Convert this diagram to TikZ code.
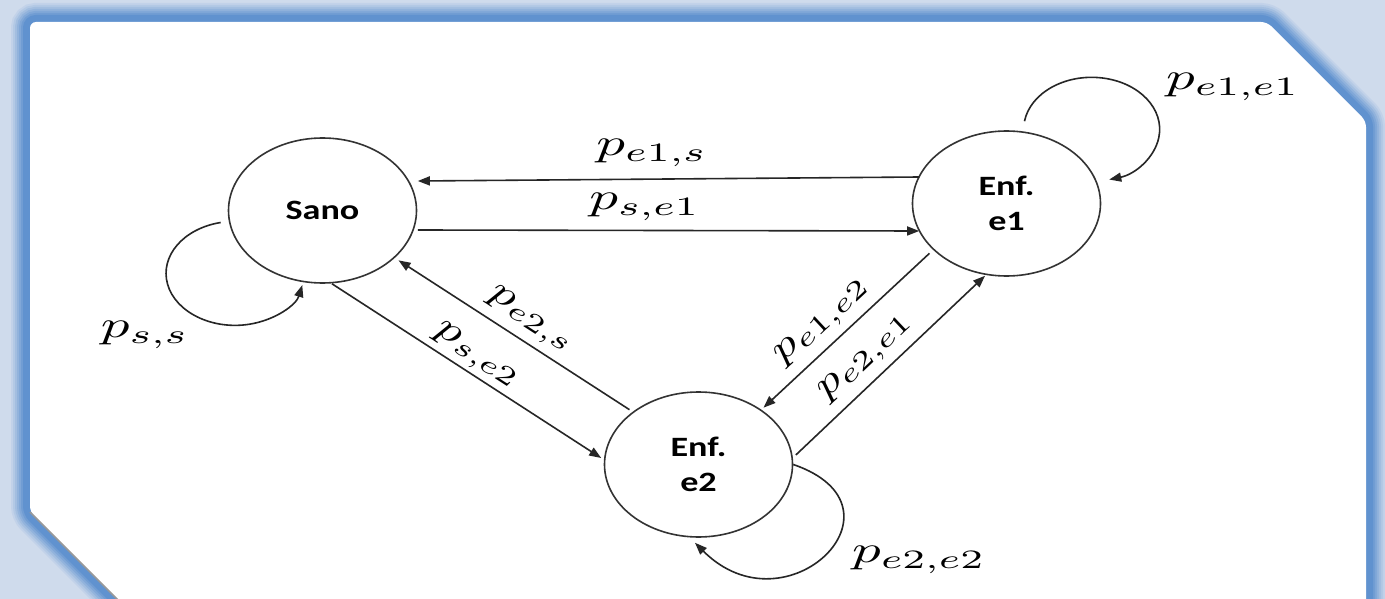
\documentclass[tikz,border=0pt]{standalone}
\usepackage{amsmath}
\usepackage{graphicx}
\usepackage{fontspec}
\usepackage{tikz}
\usetikzlibrary{arrows.meta,positioning,shapes.geometric}
\newfontfamily\statefont{Carlito}
\definecolor{bgblue}{RGB}{207,219,236}
\definecolor{glowc}{RGB}{96,146,207}
\newcommand{\wtxt}[1]{\scalebox{1.29}[1]{#1}}
\newcommand{\prob}[2][5.7]{\scalebox{#1}[3.8]{$p_{#2}$}}

\begin{document}
\begin{tikzpicture}[x=1pt,y=1pt,
    state/.style={ellipse, draw=black!80, line width=1.6pt,
      minimum width=188pt, minimum height=145pt, inner sep=0pt,
      align=center, font=\statefont\bfseries\fontsize{28}{35}\selectfont},
    arr/.style={-{Triangle[length=12pt,width=9pt]}, line width=1.6pt, draw=black!85},
    lab/.style={inner sep=1pt}]

  \useasboundingbox (0,0) rectangle (1385,-599);
  \clip (0,0) rectangle (1385,-599);

  % Background and panel
  \fill[bgblue] (0,0) rectangle (1385,-599);
  \foreach \w/\p in {38/12,34/25,30/40,26/55,22/70,18/85,14/100}
    \draw[line width=\w pt, glowc!\p!bgblue, rounded corners=6pt]
      (150,-632) -- (30,-512) -- (30,-22) -- (1267,-22) -- (1366,-121) -- (1366,-640) -- cycle;
  \fill[white, rounded corners=6pt]
    (150,-632) -- (30,-512) -- (30,-22) -- (1267,-22) -- (1366,-121) -- (1366,-640) -- cycle;
  \draw[black!40, line width=1.5pt] (30,-512) -- (150,-632);

  % States
  \node[state] (sano) at (322.5,-210.5) {\wtxt{Sano}};
  \node[state] (enf1) at (1006.5,-203.5) {\wtxt{Enf.}\\\wtxt{e1}};
  \node[state] (enf2) at (698.5,-464.5) {\wtxt{Enf.}\\\wtxt{e2}};

  % Transitions Sano <-> e1
  \draw[arr] ([shift={(7.5,26.5)}]enf1.west) -- ([shift={(0.5,29.5)}]sano.east)
    node[lab, pos=0.533, above=11pt] (pes) {\prob{e1,s}};
  \draw[arr] ([shift={(0.5,-19.5)}]sano.east) -- ([shift={(7.5,-27.5)}]enf1.west)
    node[lab, pos=0.453, above=8pt] (pse1) {\prob{s,e1}};

  % Transitions Sano <-> e2
  \draw[arr] ([xshift=9.5pt]sano.south) -- ([shift={(-2.5,6.5)}]enf2.west)
    node[lab, pos=0.5, sloped, above=2pt] (pse2) {\prob[4.94]{s,e2}};
  \draw[arr] ([shift={(-2,3)}]enf2.north west) -- ([shift={(9,2)}]sano.south east)
    node[lab, pos=0.48, sloped, above=5.5pt] (pe2s) {\prob[4.94]{e2,s}};

  % Transitions e1 <-> e2
  \draw[arr] ([shift={(-10,2)}]enf1.south west) -- ([shift={(-2,5)}]enf2.north east)
    node[lab, pos=0.55, sloped, above=7pt] (pe1e2) {\prob[4.94]{e1,e2}};
  \draw[arr] ([shift={(2.5,9.5)}]enf2.east) -- ([shift={(-21.5,1)}]enf1.south)
    node[lab, pos=0.454, sloped, above=7pt] (pe2e1) {\prob[4.94]{e2,e1}};

  % Self loops
  \draw[arr] ([shift={(-7,-12)}]sano.west)
    arc[start angle=102, end angle=347, x radius=69, y radius=52];
  \draw[arr] ([shift={(18,9)}]enf1.north)
    arc[start angle=171, end angle=-75, x radius=68, y radius=52];
  \draw[arr] (enf2.east) .. controls +(-19:130) and +(-45:130) .. ([shift={(-3.5,-5)}]enf2.south);

  \node[lab] (pss) at (145,-335) {\prob{s,s}};
  \node[lab] (pe1e1) at (1233,-87) {\prob{e1,e1}};
  \node[lab] (pe2e2) at (919,-560) {\prob{e2,e2}};

\end{tikzpicture}
\end{document}
